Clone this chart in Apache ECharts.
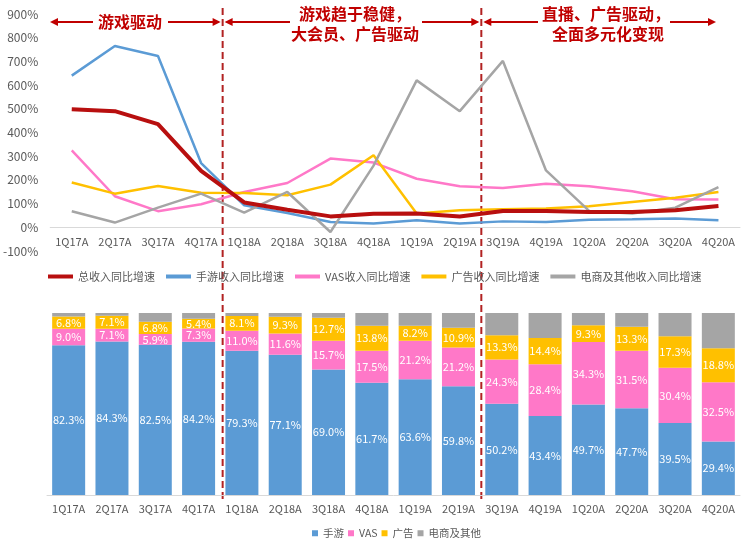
<!DOCTYPE html>
<html>
<head>
<meta charset="utf-8">
<script src="https://cdn.jsdelivr.net/npm/echarts@6/dist/echarts.min.js"></script>
<style>
  html, body { margin: 0; padding: 0; background: #fff; }
  #chart { width: 746px; height: 541px; }
</style>
</head>
<body>
<div id="chart"></div>
<script>
const categories = ['1Q17A', '2Q17A', '3Q17A', '4Q17A', '1Q18A', '2Q18A', '3Q18A', '4Q18A',
    '1Q19A', '2Q19A', '3Q19A', '4Q19A', '1Q20A', '2Q20A', '3Q20A', '4Q20A'];

// 同比增速 (%)
const totalGrowth = [498, 490, 435, 238, 105, 74, 46, 57, 58, 46, 69, 69, 65, 65, 72, 90];
const gameGrowth = [640, 765, 723, 271, 93, 60, 22, 16, 30, 16, 25, 22, 32, 34, 37, 30];
const vasGrowth = [325, 131, 68, 97, 149, 187, 290, 273, 205, 173, 166, 184, 173, 152, 118, 117];
const adGrowth = [189, 142, 174, 146, 145, 135, 180, 304, 58, 72, 76, 79, 89, 107, 125, 149];
const otherGrowth = [68, 20, 83, 142, 62, 149, -20, 260, 620, 490, 702, 240, 69, 58, 83, 170];

// 收入结构 (%)
const gameShare = [82.3, 84.3, 82.5, 84.2, 79.3, 77.1, 69.0, 61.7, 63.6, 59.8, 50.2, 43.4, 49.7, 47.7, 39.5, 29.4];
const vasShare = [9.0, 7.1, 5.9, 7.3, 11.0, 11.6, 15.7, 17.5, 21.2, 21.2, 24.3, 28.4, 34.3, 31.5, 30.4, 32.5];
const adShare = [6.8, 7.1, 6.8, 5.4, 8.1, 9.3, 12.7, 13.8, 8.2, 10.9, 13.3, 14.4, 9.3, 13.3, 17.3, 18.8];
const otherShare = [1.9, 1.5, 4.8, 3.1, 1.6, 2.0, 2.6, 7.0, 7.0, 8.1, 12.2, 13.8, 6.7, 7.5, 12.8, 19.3];

const yTicks = { min: -100, max: 900, interval: 100 };

const font = '"Noto Sans CJK SC", "Noto Sans", sans-serif';
const red = '#C00000';
const grey = '#595959';

const lineNames = ['总收入同比增速', '手游收入同比增速', 'VAS收入同比增速', '广告收入同比增速', '电商及其他收入同比增速'];
const lineData = [totalGrowth, gameGrowth, vasGrowth, adGrowth, otherGrowth];
const lineColors = ['#B80F0F', '#5B9BD5', '#FF78C8', '#FFC000', '#A5A5A5'];

const barNames = ['手游', 'VAS', '广告', '电商及其他'];
const barData = [gameShare, vasShare, adShare, otherShare];
const barColors = ['#5B9BD5', '#FF78C8', '#FFC000', '#A5A5A5'];

const topGrid = { left: 47, right: 6, top: 14, height: 237 };
const bottomGrid = { left: 47, right: 6, top: 313, height: 182 };
// 让上方类目轴落在 0% 处
const zeroOffset = -(0 - yTicks.min) / (yTicks.max - yTicks.min) * topGrid.height;

const lineSeries = lineNames.map((name, i) => ({
    name,
    type: 'line',
    xAxisIndex: 0,
    yAxisIndex: 0,
    data: lineData[i],
    symbol: 'none',
    lineStyle: { width: i === 0 ? 4 : 2.5, color: lineColors[i] },
    itemStyle: { color: lineColors[i] },
    z: i === 0 ? 3 : 2,
}));

const barSeries = barNames.map((name, i) => ({
    name,
    type: 'bar',
    stack: 'share',
    xAxisIndex: 1,
    yAxisIndex: 1,
    data: barData[i],
    barWidth: 33,
    itemStyle: { color: barColors[i] },
    label: {
        show: i < 3,
        position: 'inside',
        color: '#fff',
        fontSize: 11,
        fontFamily: font,
        formatter: p => p.value.toFixed(1) + '%',
    },
}));

const axisLabel = { color: grey, fontSize: 11, fontFamily: font, interval: 0 };

const option = {
    animation: false,
    textStyle: { fontFamily: font },
    grid: [topGrid, bottomGrid],
    legend: [
        {
            data: lineNames,
            left: 43,
            top: 266,
            icon: 'rect',
            itemWidth: 25,
            itemHeight: 4,
            itemGap: 11,
            textStyle: { color: grey, fontSize: 11, fontFamily: font },
        },
        {
            data: barNames,
            left: 307,
            top: 523,
            icon: 'rect',
            itemWidth: 6,
            itemHeight: 6,
            itemGap: 4,
            textStyle: { color: grey, fontSize: 10.5, fontFamily: font },
        },
    ],
    xAxis: [
        {
            type: 'category',
            gridIndex: 0,
            data: categories,
            offset: zeroOffset,
            axisLine: { onZero: false, lineStyle: { color: '#D9D9D9' } },
            axisTick: { show: false },
            axisLabel: { ...axisLabel, margin: 9 },
        },
        {
            type: 'category',
            gridIndex: 1,
            data: categories,
            axisLine: { lineStyle: { color: '#D9D9D9' } },
            axisTick: { show: false },
            axisLabel: { ...axisLabel, margin: 8 },
        },
    ],
    yAxis: [
        {
            type: 'value',
            gridIndex: 0,
            min: yTicks.min,
            max: yTicks.max,
            interval: yTicks.interval,
            axisLine: { show: false },
            axisTick: { show: false },
            splitLine: { show: false },
            axisLabel: { color: grey, fontSize: 12, fontFamily: font, margin: 12, formatter: '{value}%' },
        },
        {
            type: 'value',
            gridIndex: 1,
            min: 0,
            max: 100,
            show: false,
            splitLine: { show: false },
        },
    ],
    series: [...lineSeries, ...barSeries],
};

const chart = echarts.init(document.getElementById('chart'));
chart.setOption(option);

// 分期虚线和箭头注释
const px = i => chart.convertToPixel({ xAxisIndex: 0 }, categories[i]);
const split1 = (px(3) + px(4)) / 2;
const split2 = (px(9) + px(10)) / 2;
const arrowY = 22;

const seg = (x1, x2) => ({
    type: 'line',
    shape: { x1, y1: arrowY, x2, y2: arrowY },
    style: { stroke: red, lineWidth: 2 },
});
const head = (x, dir) => ({
    type: 'polygon',
    shape: { points: [[x, arrowY], [x - dir * 8, arrowY - 4], [x - dir * 8, arrowY + 4]] },
    style: { fill: red },
});
const label = (x, y, text) => ({
    type: 'text',
    x, y,
    style: {
        text,
        fill: red,
        font: 'bold 16px ' + font,
        align: 'center',
        verticalAlign: 'middle',
    },
});
const dashed = x => ({
    type: 'line',
    shape: { x1: x, y1: 8, x2: x, y2: 500 },
    style: { stroke: '#B22222', lineWidth: 2, lineDash: [7, 4] },
});

chart.setOption({
    graphic: [
        dashed(split1),
        dashed(split2),
        seg(52, 93), head(50, -1),
        label(130, arrowY, '游戏驱动'),
        seg(168, split1 - 4), head(split1 - 2, 1),
        seg(split1 + 4, 290), head(split1 + 2, -1),
        label(355, 14, '游戏趋于稳健，'),
        label(355, 34, '大会员、广告驱动'),
        seg(422, split2 - 4), head(split2 - 2, 1),
        seg(split2 + 4, 538), head(split2 + 2, -1),
        label(606, 14, '直播、广告驱动，'),
        label(608, 34, '全面多元化变现'),
        seg(670, 714), head(716, 1),
    ],
});
</script>
</body>
</html>
